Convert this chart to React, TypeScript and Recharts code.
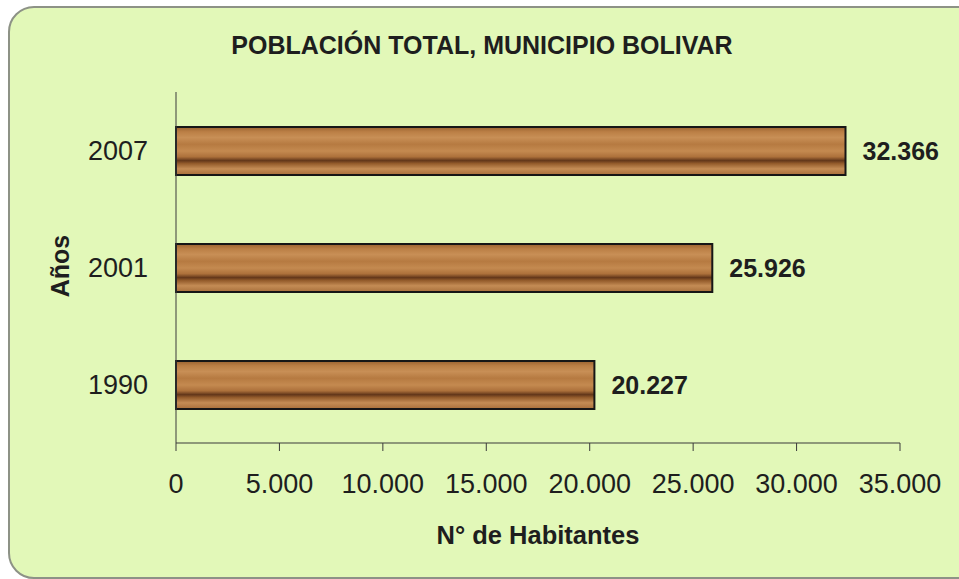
import { BarChart, Bar, XAxis, YAxis, LabelList } from 'recharts';

const YEARS = ['1990', '2001', '2007'];
const HABITANTES = [20227, 25926, 32366];
const X_TICKS = [0, 5000, 10000, 15000, 20000, 25000, 30000, 35000];

const DATA = YEARS.map((year, i) => ({ year, value: HABITANTES[i] }));

const FONT = '"Liberation Sans", Arial, sans-serif';
const INK = '#1e1e1e';

const fmt = (v: number) => String(v).replace(/\B(?=(\d{3})+(?!\d))/g, '.');

export default function App() {
  return (
    <div style={{ position: 'fixed', left: 0, top: 0, width: 959, height: 579, overflow: 'hidden', background: '#fff', fontFamily: FONT }}>
      {/* rounded panel */}
      <div
        style={{
          position: 'absolute', left: 8, top: 6, width: 975, height: 569,
          background: '#e2f8b8', border: '2px solid #8d9286', borderRadius: 26,
        }}
      />
      <div style={{ position: 'absolute', left: 0, top: 0 }}>
        <BarChart
          width={959}
          height={579}
          data={DATA}
          layout="vertical"
          margin={{ top: 92, right: 59, bottom: 0, left: 40 }}
        >
          <defs>
            {/* wood-grain look: horizontal bands */}
            <linearGradient id="wood" x1="0" y1="0" x2="0" y2="1">
              <stop offset="0%" stopColor="#9a6230" />
              <stop offset="10%" stopColor="#bb7f45" />
              <stop offset="22%" stopColor="#c88f56" />
              <stop offset="36%" stopColor="#b67a41" />
              <stop offset="50%" stopColor="#c48a50" />
              <stop offset="62%" stopColor="#ad713b" />
              <stop offset="70%" stopColor="#63371a" />
              <stop offset="76%" stopColor="#935b2b" />
              <stop offset="87%" stopColor="#c48c55" />
              <stop offset="100%" stopColor="#a86f3b" />
            </linearGradient>
          </defs>
          <XAxis
            type="number"
            domain={[0, 35000]}
            ticks={X_TICKS}
            tickFormatter={fmt}
            height={136}
            stroke="#3a3a3a"
            tickSize={8}
            tickMargin={23}
            tick={{ fill: INK, fontSize: 27, fontFamily: FONT }}
            interval={0}
          />
          <YAxis
            type="category"
            dataKey="year"
            reversed
            width={136}
            stroke="#3a3a3a"
            tickLine={false}
            tickSize={6}
            tickMargin={22}
            tick={{ fill: INK, fontSize: 27, fontFamily: FONT }}
          />
          <Bar dataKey="value" fill="url(#wood)" stroke="#161616" strokeWidth={2} barSize={48} isAnimationActive={false}>
            <LabelList
              dataKey="value"
              position="right"
              offset={17}
              formatter={(v: any) => fmt(Number(v))}
              style={{ fill: INK, fontSize: 25, fontWeight: 'bold', fontFamily: FONT }}
            />
          </Bar>
        </BarChart>
      </div>
      <div style={{ position: 'absolute', left: 182, width: 600, top: 30, textAlign: 'center', fontSize: 25, fontWeight: 'bold', color: INK, lineHeight: '30px' }}>
        POBLACIÓN TOTAL, MUNICIPIO BOLIVAR
      </div>
      <div style={{ position: 'absolute', left: 338, width: 400, top: 520, textAlign: 'center', fontSize: 25.5, fontWeight: 'bold', color: INK, lineHeight: '30px' }}>
        N° de Habitantes
      </div>
      <div
        style={{
          position: 'absolute', left: 60, top: 266, width: 100, marginLeft: -50, marginTop: -15,
          textAlign: 'center', fontSize: 25, fontWeight: 'bold', color: INK, lineHeight: '30px',
          transform: 'rotate(-90deg)',
        }}
      >
        Años
      </div>
    </div>
  );
}
